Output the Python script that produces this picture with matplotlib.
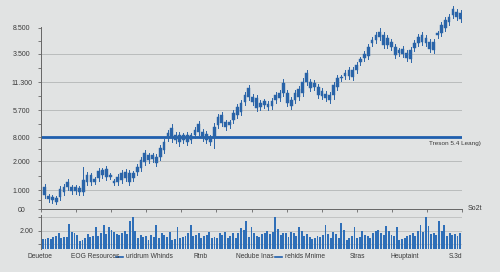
import matplotlib.pyplot as plt
from matplotlib.patches import Rectangle

# Dados das velas (unidades do eixo: 0 = base, topo ~205)
aberturas = [14, 10, 9, 7, 12, 17, 22, 18, 18, 17,
             17, 27, 27, 27, 31, 34, 32, 32, 26, 27,
             29, 31, 27, 31, 37, 41, 47, 49, 50, 46,
             52, 59, 71, 71, 69, 67, 69, 67, 69, 74,
             77, 71, 69, 67, 71, 84, 86, 82, 84, 89,
             94, 97, 107, 112, 107, 101, 102, 104, 102, 103,
             109, 111, 116, 106, 103, 109, 112, 116, 127, 121,
             122, 114, 113, 111, 109, 114, 122, 131, 133, 133,
             132, 139, 147, 151, 153, 166, 169, 172, 164, 164,
             162, 154, 156, 155, 151, 150, 161, 166, 167, 166,
             160, 159, 174, 176, 181, 187, 194, 192, 190]
fechos = [22, 13, 12, 11, 20, 22, 27, 22, 22, 21,
          29, 34, 34, 30, 38, 39, 40, 34, 28, 32,
          36, 37, 36, 36, 42, 49, 56, 54, 54, 52,
          61, 67, 76, 81, 74, 74, 74, 74, 74, 79,
          85, 77, 75, 72, 82, 92, 94, 87, 87, 96,
          102, 106, 114, 121, 112, 111, 106, 108, 105, 108,
          114, 116, 126, 116, 109, 116, 120, 127, 136, 127,
          126, 122, 118, 115, 114, 124, 131, 132, 136, 139,
          139, 144, 150, 155, 162, 169, 174, 177, 174, 171,
          167, 162, 159, 160, 156, 159, 166, 172, 174, 171,
          167, 167, 176, 184, 189, 192, 200, 197, 196]
maximos = [25, 15, 14, 13, 23, 25, 30, 24, 24, 23,
           42, 37, 36, 32, 41, 41, 43, 36, 30, 35,
           39, 40, 39, 38, 45, 52, 59, 56, 56, 55,
           64, 70, 79, 85, 77, 77, 76, 77, 76, 82,
           88, 80, 78, 74, 86, 95, 97, 89, 89, 99,
           105, 109, 117, 124, 115, 114, 109, 110, 108, 111,
           117, 119, 130, 119, 112, 119, 123, 131, 139, 130,
           129, 125, 121, 118, 117, 127, 134, 134, 139, 142,
           142, 147, 152, 158, 165, 172, 177, 181, 177, 174,
           170, 165, 161, 163, 159, 162, 169, 175, 177, 174,
           170, 170, 178, 187, 192, 195, 203, 200, 199]
minimos = [11, 7, 6, 5, 9, 14, 19, 15, 15, 14,
           14, 24, 24, 25, 28, 31, 29, 30, 24, 24,
           26, 28, 24, 28, 34, 38, 44, 46, 47, 43,
           49, 56, 68, 67, 66, 63, 66, 64, 66, 71,
           74, 68, 66, 64, 61, 81, 83, 79, 81, 86,
           91, 94, 104, 109, 104, 98, 99, 101, 99, 100,
           106, 108, 113, 103, 100, 106, 109, 113, 124, 118,
           119, 111, 110, 108, 106, 110, 119, 128, 130, 130,
           129, 136, 144, 148, 150, 163, 166, 169, 161, 161,
           159, 151, 153, 152, 148, 147, 158, 163, 164, 163,
           157, 156, 171, 173, 178, 184, 191, 189, 187]

# Volume
volume = [10, 10, 11, 10, 12, 13, 16, 11, 12, 12,
          25, 17, 16, 14, 8, 9, 11, 15, 12, 13,
          22, 13, 16, 24, 15, 22, 19, 17, 15, 14,
          16, 18, 15, 28, 32, 18, 11, 14, 12, 13,
          9, 14, 12, 24, 11, 16, 14, 12, 17, 9,
          10, 22, 11, 12, 13, 16, 24, 13, 14, 16,
          11, 13, 14, 17, 11, 12, 11, 16, 14, 17,
          11, 13,
          16, 11, 16, 21, 19, 28, 12, 22, 16, 13,
          12, 15, 16, 18, 15, 17, 32, 20, 14, 16,
          16, 12, 17, 16, 13, 22, 18, 13, 15, 12,
          10, 11, 13, 12, 14, 24, 15, 11, 17, 15,
          11, 26, 19, 9, 11, 13, 22, 11, 12, 18,
          14, 13, 11, 16, 18, 19, 16, 14, 23, 18,
          14, 13, 22, 9, 10, 11, 13, 14, 16, 13,
          18, 24, 17, 32, 23, 15, 16, 14, 28, 18,
          24, 13, 16, 14, 15, 13, 16]

# Etiquetas do eixo y (como aparecem na imagem)
pos_y = [0, 19, 48, 72, 99, 127, 155, 181]
rotulos_y = ['00', '1.000', '2.000', '8.000', '5.700', '11.300', '3.500', '8.500']
nivel_linha = 72
rotulo_linha = 'Treson 5.4 Leang)'

# Legenda de baixo: (texto, x em pixels, tem traço)
# com traço: x é a borda esquerda do texto; sem traço: x é o centro
rotulos_x = [('Deuetoe', 40, False), ('EOG Resources', 95, False),
             ('uridrum Whinds', 126, True), ('Rtnb', 201, False),
             ('Nedube Inas', 255, False), ('rehids Mnime', 285, True),
             ('Stras', 357, False), ('Heuptaint', 405, False), ('S.3d', 455, False)]

plt.rcParams['font.family'] = ['Liberation Sans', 'DejaVu Sans']
azul = '#2a64a8'
cinza_txt = '#3a3a3a'

fig = plt.figure(figsize=(5, 2.72), dpi=100, facecolor='#e1e3e3')

#%% Painel principal com velas
ax = fig.add_axes([0.082, 0.2316, 0.842, 0.7537])
ax.set_facecolor('none')
n = len(fechos)
for i in range(n):
    ax.plot([i, i], [minimos[i], maximos[i]], color=azul, lw=0.7, zorder=3)
    baixo = min(aberturas[i], fechos[i])
    alto = max(aberturas[i], fechos[i])
    ax.add_patch(Rectangle((i - 0.36, baixo), 0.72, alto - baixo,
                           facecolor=azul, edgecolor=azul, lw=0.3, zorder=4))

for p in pos_y[1:-1]:
    if p != nivel_linha:
        ax.axhline(p, color='#b9bcbc', lw=0.7, zorder=1)
ax.axhline(nivel_linha, color='#1f5fae', lw=2, zorder=2)
fig.text(481 / 500, 1 - 144 / 272, rotulo_linha, fontsize=4.6, color=cinza_txt,
         ha='right', va='center')

ax.set_xlim(-0.96, 108.35)
ax.set_ylim(0, 205)
ax.set_yticks(pos_y)
ax.set_yticklabels(rotulos_y, fontsize=5, color=cinza_txt)
ax.set_yticks([9.5, 33.5, 60, 85.5, 113, 141, 168], minor=True)
ax.tick_params(axis='y', which='both', length=2, width=0.6, color='#666666', pad=12)
for lbl in ax.get_yticklabels():
    lbl.set_horizontalalignment('center')
ax.set_xticks([-0.96 + k * 9.11 for k in range(13)])
ax.set_xticklabels([])
ax.tick_params(axis='x', length=2.5, width=0.6, color='#666666', direction='out')
for s in ['top', 'right']:
    ax.spines[s].set_visible(False)
ax.spines['left'].set_bounds(0, 182)
ax.spines['left'].set_color('#666666')
ax.spines['bottom'].set_color('#666666')
ax.spines['left'].set_linewidth(0.7)
ax.spines['bottom'].set_linewidth(0.7)
fig.text(468 / 500, 1 - 209 / 272, 'So2t', fontsize=5, color=cinza_txt, va='center')

#%% Painel de volume
axv = fig.add_axes([0.082, 0.0846, 0.842, 0.125])
axv.set_facecolor('none')
axv.bar(range(len(volume)), volume, width=0.72, color='#2f6fb8', zorder=3)
axv.set_xlim(-0.7, len(volume) - 0.3)
axv.set_ylim(0, 34)
for p in [5, 18, 32]:
    axv.axhline(p, color='#bcbfbf', lw=0.6, zorder=1)
axv.set_yticks([18])
axv.set_yticklabels(['2.00'], fontsize=5, color=cinza_txt)
axv.set_yticks([5, 32], minor=True)
axv.tick_params(axis='y', which='both', length=2, width=0.6, color='#666666')
axv.set_xticks([])
for s in ['top', 'right', 'bottom']:
    axv.spines[s].set_visible(False)
axv.spines['left'].set_color('#666666')
axv.spines['left'].set_linewidth(0.7)

#%% Legenda / etiquetas de baixo
y_leg = 1 - 257 / 272
for texto, xp, traco in rotulos_x:
    if traco:
        fig.add_artist(plt.Line2D([(xp - 10) / 500, (xp - 3) / 500], [y_leg] * 2,
                                  color='#1f5fae', lw=1.2))
        fig.text(xp / 500, y_leg, texto, fontsize=4.8, color=cinza_txt,
                 ha='left', va='center')
    else:
        fig.text(xp / 500, y_leg, texto, fontsize=4.8, color=cinza_txt,
                 ha='center', va='center')

plt.savefig('out.png', dpi=100, facecolor=fig.get_facecolor())
